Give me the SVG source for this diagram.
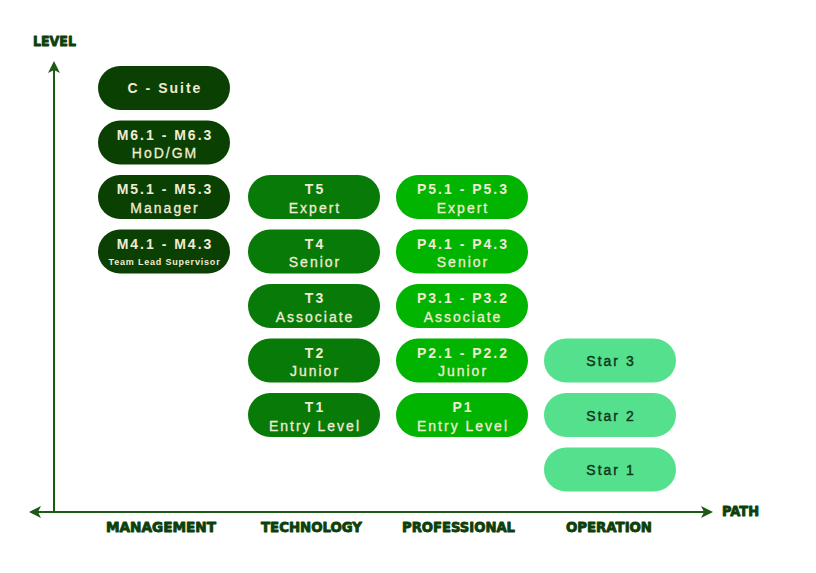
<svg xmlns="http://www.w3.org/2000/svg" width="816" height="573" viewBox="0 0 816 573">
<style>
.bx{rx:22;ry:22}
.m{fill:#0b4003}
.t{fill:#077a08}
.p{fill:#00b400}
.s{fill:#55e08e}
.l1{font-family:"Liberation Sans",Arial,sans-serif;font-weight:bold;font-size:14px;letter-spacing:2px;fill:#f1ebd3;text-anchor:middle}
.l2{font-family:"Liberation Sans",Arial,sans-serif;font-size:14px;letter-spacing:2px;fill:#f1ebd3;stroke:#f1ebd3;stroke-width:0.3px;text-anchor:middle}
.sm{font-family:"Liberation Sans",Arial,sans-serif;font-weight:bold;font-size:9px;letter-spacing:0.8px;fill:#f1ebd3;text-anchor:middle}
.st{font-family:"Liberation Sans",Arial,sans-serif;font-size:14px;letter-spacing:2px;fill:#10361a;stroke:#10361a;stroke-width:0.4px;text-anchor:middle}
.ax{font-family:"DejaVu Sans",sans-serif;font-weight:bold;font-size:14px;fill:#0d3f0a;stroke:#0d3f0a;stroke-width:0.9px;stroke-linejoin:round}
.axl{stroke:#1d5a16;stroke-width:2;fill:none}
.ah{fill:#1d5a16}
</style>
<g id="connectors">
<line class="axl" x1="54" y1="66" x2="54" y2="512"/>
<line class="axl" x1="33" y1="512" x2="709" y2="512"/>
<path class="ah" d="M54,61 L60,73 L54,70 L48,73 Z"/>
<path class="ah" d="M29,512 L41,506 L38,512 L41,518 Z"/>
<path class="ah" d="M713,512 L701,506 L704,512 L701,518 Z"/>
</g>
<g id="axis-labels">
<text class="ax" x="33" y="46" textLength="43" lengthAdjust="spacingAndGlyphs">LEVEL</text>
<text class="ax" x="722" y="516" textLength="37" lengthAdjust="spacingAndGlyphs">PATH</text>
<text class="ax" x="106" y="532" textLength="110" lengthAdjust="spacingAndGlyphs">MANAGEMENT</text>
<text class="ax" x="261" y="532" textLength="101" lengthAdjust="spacingAndGlyphs">TECHNOLOGY</text>
<text class="ax" x="402" y="532" textLength="113" lengthAdjust="spacingAndGlyphs">PROFESSIONAL</text>
<text class="ax" x="566" y="532" textLength="86" lengthAdjust="spacingAndGlyphs">OPERATION</text>
</g>
<g id="c-suite"><rect class="bx m" x="98" y="66" width="132" height="44"/><text class="l1" x="165" y="93">C - Suite</text></g>
<g id="m6"><rect class="bx m" x="98" y="120.5" width="132" height="44"/><text class="l1" x="165" y="139.5">M6.1 - M6.3</text><text class="l2" x="165" y="158">HoD/GM</text></g>
<g id="m5"><rect class="bx m" x="98" y="175" width="132" height="44"/><text class="l1" x="165" y="194">M5.1 - M5.3</text><text class="l2" x="165" y="212.5">Manager</text></g>
<g id="m4"><rect class="bx m" x="98" y="229.5" width="132" height="44"/><text class="l1" x="165" y="248.5">M4.1 - M4.3</text><text class="sm" x="164.5" y="265">Team Lead Supervisor</text></g>

<g id="t5"><rect class="bx t" x="248" y="175" width="132" height="44"/><text class="l1" x="315" y="194">T5</text><text class="l2" x="315" y="212.5">Expert</text></g>
<g id="t4"><rect class="bx t" x="248" y="229.5" width="132" height="44"/><text class="l1" x="315" y="248.5">T4</text><text class="l2" x="315" y="267">Senior</text></g>
<g id="t3"><rect class="bx t" x="248" y="284" width="132" height="44"/><text class="l1" x="315" y="303">T3</text><text class="l2" x="315" y="321.5">Associate</text></g>
<g id="t2"><rect class="bx t" x="248" y="338.5" width="132" height="44"/><text class="l1" x="315" y="357.5">T2</text><text class="l2" x="315" y="376">Junior</text></g>
<g id="t1"><rect class="bx t" x="248" y="393" width="132" height="44"/><text class="l1" x="315" y="412">T1</text><text class="l2" x="315" y="430.5">Entry Level</text></g>

<g id="p5"><rect class="bx p" x="396" y="175" width="132" height="44"/><text class="l1" x="463" y="194">P5.1 - P5.3</text><text class="l2" x="463" y="212.5">Expert</text></g>
<g id="p4"><rect class="bx p" x="396" y="229.5" width="132" height="44"/><text class="l1" x="463" y="248.5">P4.1 - P4.3</text><text class="l2" x="463" y="267">Senior</text></g>
<g id="p3"><rect class="bx p" x="396" y="284" width="132" height="44"/><text class="l1" x="463" y="303">P3.1 - P3.2</text><text class="l2" x="463" y="321.5">Associate</text></g>
<g id="p2"><rect class="bx p" x="396" y="338.5" width="132" height="44"/><text class="l1" x="463" y="357.5">P2.1 - P2.2</text><text class="l2" x="463" y="376">Junior</text></g>
<g id="p1"><rect class="bx p" x="396" y="393" width="132" height="44"/><text class="l1" x="463" y="412">P1</text><text class="l2" x="463" y="430.5">Entry Level</text></g>

<g id="star3"><rect class="bx s" x="544" y="338.5" width="132" height="44"/><text class="st" x="611" y="366">Star 3</text></g>
<g id="star2"><rect class="bx s" x="544" y="393" width="132" height="44"/><text class="st" x="611" y="420.5">Star 2</text></g>
<g id="star1"><rect class="bx s" x="544" y="447.5" width="132" height="44"/><text class="st" x="611" y="475">Star 1</text></g>
</svg>
